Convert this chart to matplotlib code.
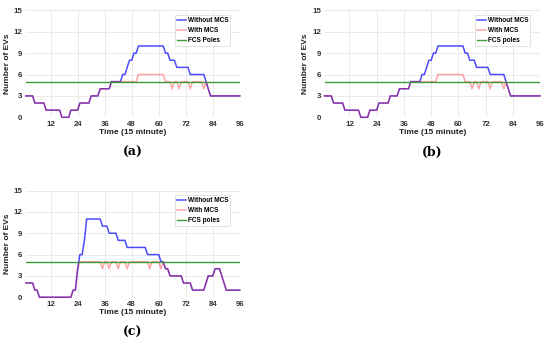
import numpy as np
import matplotlib
matplotlib.use("Agg")
import matplotlib.pyplot as plt

plt.rcParams["font.family"] = ["Liberation Sans", "DejaVu Sans"]

time = np.arange(1, 97)

# Panel (a) / (b): number of EVs without MCS
without_ab = [3, 3, 3, 3, 2, 2, 2, 2, 2, 1,
              1, 1, 1, 1, 1, 1, 0, 0, 0, 0,
              1, 1, 1, 1, 2, 2, 2, 2, 2, 3,
              3, 3, 3, 4, 4, 4, 4, 4, 5, 5,
              5, 5, 5, 6, 6, 7, 8, 8, 9, 9,
              10, 10, 10, 10, 10, 10, 10, 10, 10, 10,
              10, 10, 9, 9, 8, 8, 8, 7, 7, 7,
              7, 7, 7, 6, 6, 6, 6, 6, 6, 6,
              5, 4, 3, 3, 3, 3, 3, 3, 3, 3,
              3, 3, 3, 3, 3, 3]
with_ab = [3, 3, 3, 3, 2, 2, 2, 2, 2, 1,
           1, 1, 1, 1, 1, 1, 0, 0, 0, 0,
           1, 1, 1, 1, 2, 2, 2, 2, 2, 3,
           3, 3, 3, 4, 4, 4, 4, 4, 5, 5,
           5, 5, 5, 5, 5, 5, 5, 5, 5, 5,
           6, 6, 6, 6, 6, 6, 6, 6, 6, 6,
           6, 6, 5, 5, 5, 4, 5, 5, 4, 5,
           5, 5, 5, 4, 5, 5, 5, 5, 5, 4,
           5, 4, 3, 3, 3, 3, 3, 3, 3, 3,
           3, 3, 3, 3, 3, 3]

# Panel (c)
without_c = [2, 2, 2, 2, 1, 1, 0, 0, 0, 0,
             0, 0, 0, 0, 0, 0, 0, 0, 0, 0,
             0, 1, 1, 4, 6, 6, 8, 11, 11, 11,
             11, 11, 11, 11, 10, 10, 10, 9, 9, 9,
             9, 8, 8, 8, 8, 7, 7, 7, 7, 7,
             7, 7, 7, 7, 6, 6, 6, 6, 6, 6,
             5, 5, 4, 4, 3, 3, 3, 3, 3, 3,
             2, 2, 2, 2, 1, 1, 1, 1, 1, 1,
             2, 3, 3, 3, 4, 4, 4, 3, 2, 1,
             1, 1, 1, 1, 1, 1]
with_c = [2, 2, 2, 2, 1, 1, 0, 0, 0, 0,
          0, 0, 0, 0, 0, 0, 0, 0, 0, 0,
          0, 1, 1, 4, 5, 5, 5, 5, 5, 5,
          5, 5, 5, 5, 4, 5, 5, 4, 5, 5,
          5, 4, 5, 5, 5, 4, 5, 5, 5, 5,
          5, 5, 5, 5, 5, 4, 5, 5, 5, 5,
          4, 5, 4, 4, 3, 3, 3, 3, 3, 3,
          2, 2, 2, 2, 1, 1, 1, 1, 1, 1,
          2, 3, 3, 3, 4, 4, 4, 3, 2, 1,
          1, 1, 1, 1, 1, 1]

fcs_poles = 5
x_ticks = [12, 24, 36, 48, 60, 72, 84, 96]
y_ticks = [0, 3, 6, 9, 12, 15]
legend_ab = ["Without MCS", "With MCS", "FCS Poles"]
legend_b = ["Without MCS", "With MCS", "FCS poles"]
legend_c = ["Without MCS", "With MCS", "FCS poles"]
captions = ["(a)", "(b)", "(c)"]

fig = plt.figure(figsize=(5.5, 3.44), dpi=100)

positions = [
    [0.047, 0.659, 0.389, 0.311],
    [0.590, 0.659, 0.392, 0.311],
    [0.047, 0.136, 0.389, 0.310],
]
panels = [
    (without_ab, with_ab, legend_ab),
    (without_ab, with_ab, legend_b),
    (without_c, with_c, legend_c),
]

for pos, (wo, wi, labels), cap in zip(positions, panels, captions):
    ax = fig.add_axes(pos)
    l1, = ax.plot(time, wo, color="blue", alpha=0.7, lw=1.1, clip_on=False, zorder=3)
    l2, = ax.plot(time, wi, color="red", alpha=0.35, lw=1.1, clip_on=False, zorder=4)
    l3 = ax.axhline(fcs_poles, color="#3c9a3c", lw=1.0, zorder=5)
    ax.set_xlim(1, 96)
    ax.set_ylim(0, 15)
    ax.set_xticks(x_ticks)
    ax.set_yticks(y_ticks)
    ax.grid(True, color="#e6e6e6", lw=0.6)
    for s in ax.spines.values():
        s.set_visible(False)
    ax.tick_params(length=0, labelsize=5.7, pad=2.5, colors="#333333")
    for t in ax.get_xticklabels() + ax.get_yticklabels():
        t.set_fontweight("bold")
    ax.set_xlabel("Time (15 minute)", fontsize=6.0, fontweight="bold", labelpad=0.8, color="#222222")
    ax.set_ylabel("Number of EVs", fontsize=6.0, fontweight="bold", labelpad=2.0, color="#222222")
    leg = ax.legend([l1, l2, l3], labels, loc="upper right", fontsize=4.7,
                    handlelength=1.3, handletextpad=0.3, borderpad=0.3,
                    labelspacing=0.45, fancybox=False, framealpha=1,
                    edgecolor="#dddddd", bbox_to_anchor=(0.97, 0.985))
    for t in leg.get_texts():
        t.set_fontweight("bold")
    leg.get_frame().set_linewidth(0.6)
    ax.text(0.5, -0.33, cap, transform=ax.transAxes, ha="center", va="center",
            fontsize=9, fontweight="bold", family="DejaVu Serif")

fig.savefig("out.png", dpi=100)
